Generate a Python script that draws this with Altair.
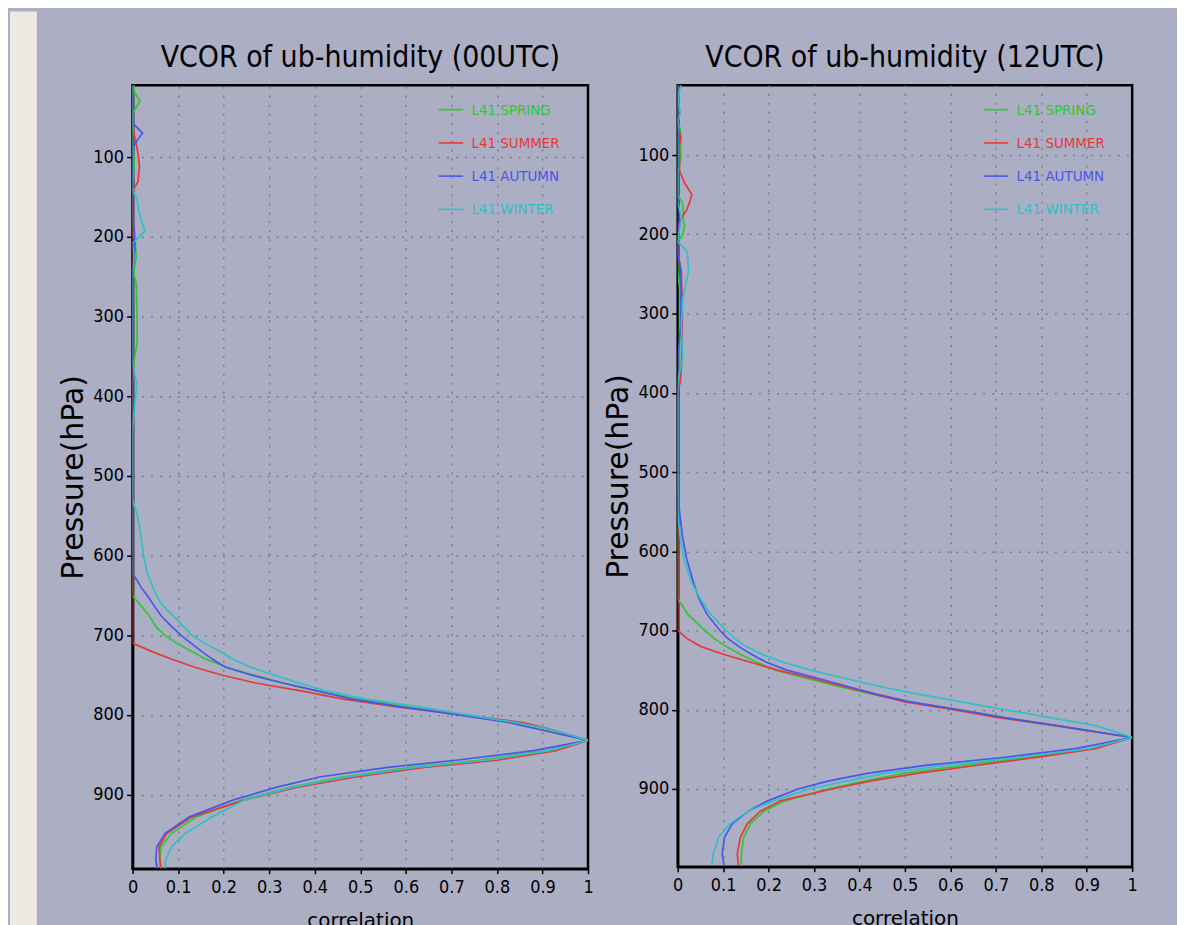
import altair as alt
import pandas as pd

SEASONS = ["L41 SPRING", "L41 SUMMER", "L41 AUTUMN", "L41 WINTER"]
COLORS = ["#30c830", "#e43a3a", "#4a55ee", "#2fc0c8"]
TITLES = ["VCOR of ub-humidity (00UTC)", "VCOR of ub-humidity (12UTC)"]
X_TICKS = [0, 0.1, 0.2, 0.3, 0.4, 0.5, 0.6, 0.7, 0.8, 0.9, 1]
Y_TICKS = [100, 200, 300, 400, 500, 600, 700, 800, 900]

# ---- 00UTC ----
LEV_00 = [10, 18, 30, 45, 57, 70, 79, 89, 100, 112,
          131, 142, 152, 171, 193, 208, 224, 246, 258, 300,
          332, 357, 386, 441, 500, 530, 553, 575, 600, 622,
          641, 651, 662, 676, 690, 700, 710, 720, 730, 740,
          750, 760, 770, 780, 790, 800, 810, 820, 832, 845,
          857, 866, 878, 891, 907, 928, 949, 966, 982, 993]
SPRING_00 = [0.003, 0.004, 0.016, 0, 0, 0, 0, 0, 0.003, 0.003,
             0, 0, 0, 0, 0, 0.006, 0.008, 0.002, 0.008, 0.01,
             0.01, 0.003, 0, 0, 0, 0, 0, 0, 0, 0,
             0, 0, 0.017, 0.037, 0.052, 0.07, 0.097, 0.128, 0.16, 0.205,
             0.265, 0.33, 0.405, 0.49, 0.60, 0.725, 0.83, 0.91, 1.0, 0.91,
             0.76, 0.61, 0.46, 0.345, 0.24, 0.14, 0.085, 0.062, 0.06, 0.063]
SUMMER_00 = [0, 0, 0, 0, 0, 0.003, 0.006, 0.01, 0.013, 0.015,
             0.012, 0, 0, 0, 0, 0, 0, 0, 0, 0,
             0, 0, 0, 0, 0, 0, 0, 0, 0, 0,
             0, 0, 0, 0, 0, 0, 0, 0.04, 0.085, 0.135,
             0.195, 0.27, 0.37, 0.46, 0.58, 0.73, 0.86, 0.93, 1.0, 0.93,
             0.80, 0.64, 0.49, 0.36, 0.245, 0.13, 0.075, 0.058, 0.06, 0.062]
AUTUMN_00 = [0, 0, 0, 0, 0, 0.022, 0.01, 0, 0, 0,
             0, 0, 0, 0, 0.004, 0.005, 0.004, 0, 0, 0,
             0, 0, 0, 0, 0, 0, 0, 0, 0, 0,
             0.02, 0.033, 0.046, 0.063, 0.087, 0.106, 0.128, 0.151, 0.175, 0.203,
             0.26, 0.33, 0.405, 0.48, 0.59, 0.715, 0.83, 0.905, 1.0, 0.88,
             0.71, 0.56, 0.41, 0.315, 0.22, 0.125, 0.071, 0.053, 0.051, 0.054]
WINTER_00 = [0, 0, 0, 0, 0, 0, 0, 0, 0, 0,
             0, 0, 0.009, 0.015, 0.027, 0, 0.003, 0, 0, 0,
             0, 0, 0.009, 0, 0, 0, 0.012, 0.018, 0.024, 0.032,
             0.046, 0.053, 0.065, 0.09, 0.113, 0.13, 0.158, 0.19, 0.22, 0.258,
             0.31, 0.365, 0.425, 0.51, 0.63, 0.735, 0.845, 0.93, 1.0, 0.915,
             0.775, 0.62, 0.47, 0.35, 0.245, 0.175, 0.115, 0.085, 0.073, 0.07]

# ---- 12UTC ----
LEV_12 = [8, 20, 35, 47, 58, 66, 78, 91, 100, 112,
          120, 135, 150, 160, 169, 180, 190, 202, 209, 222,
          247, 268, 281, 314, 356, 386, 398, 460, 520, 550,
          580, 610, 640, 660, 680, 700, 710, 720, 730, 740,
          750, 760, 770, 780, 790, 800, 810, 820, 835, 849,
          860, 870, 880, 890, 900, 915, 928, 944, 961, 982,
          997]
SPRING_12 = [0, 0, 0, 0, 0, 0.005, 0.007, 0.006, 0.007, 0.005,
             0, 0, 0, 0.01, 0.012, 0.012, 0.015, 0.01, 0, 0,
             0, 0.004, 0.004, 0.004, 0.004, 0.003, 0, 0, 0, 0,
             0, 0, 0, 0, 0.023, 0.06, 0.08, 0.106, 0.138, 0.174,
             0.215, 0.28, 0.35, 0.425, 0.511, 0.62, 0.72, 0.835, 1.0, 0.91,
             0.77, 0.63, 0.50, 0.41, 0.33, 0.235, 0.19, 0.16, 0.145, 0.14,
             0.14]
SUMMER_12 = [0, 0, 0, 0, 0, 0.002, 0.007, 0.003, 0.004, 0.004,
             0.004, 0.015, 0.031, 0.026, 0.02, 0.008, 0, 0, 0, 0,
             0.008, 0.009, 0.01, 0.01, 0.009, 0.006, 0, 0, 0, 0,
             0, 0, 0, 0, 0, 0, 0.02, 0.05, 0.1, 0.16,
             0.22, 0.292, 0.36, 0.43, 0.5, 0.606, 0.705, 0.83, 1.0, 0.92,
             0.79, 0.66, 0.53, 0.423, 0.34, 0.226, 0.182, 0.153, 0.138, 0.131,
             0.134]
AUTUMN_12 = [0, 0, 0, 0, 0, 0, 0, 0, 0, 0,
             0, 0, 0, 0, 0, 0, 0, 0, 0, 0,
             0.007, 0.007, 0.007, 0.007, 0, 0, 0, 0, 0, 0.004,
             0.01, 0.02, 0.035, 0.047, 0.065, 0.093, 0.11, 0.134, 0.162, 0.195,
             0.24, 0.306, 0.37, 0.435, 0.511, 0.62, 0.72, 0.835, 1.0, 0.875,
             0.72, 0.55, 0.42, 0.33, 0.265, 0.198, 0.155, 0.12, 0.103, 0.098,
             0.102]
WINTER_12 = [0.009, 0.003, 0.002, 0.006, 0, 0, 0, 0, 0, 0,
             0, 0, 0, 0, 0.004, 0.009, 0.005, 0.002, 0, 0.021,
             0.024, 0.016, 0.011, 0.008, 0.011, 0, 0, 0, 0, 0,
             0.005, 0.014, 0.031, 0.05, 0.073, 0.107, 0.125, 0.15, 0.185, 0.232,
             0.292, 0.365, 0.44, 0.525, 0.625, 0.72, 0.82, 0.92, 1.0, 0.905,
             0.75, 0.59, 0.46, 0.37, 0.29, 0.21, 0.155, 0.115, 0.09, 0.078,
             0.075]

NARROW = "Liberation Sans Narrow, Arial Narrow, DejaVu Sans Condensed, sans-serif"
WIDE = "DejaVu Sans, Verdana, sans-serif"
BG = "#acaec4"
STRIP = "#efe9e3"
GRID = "#7c7d8c"

label_expr = " : ".join(
    f"datum.value == '{s}' ? '{c}'" for s, c in zip(SEASONS, COLORS)
) + " : 'black'"


def make_panel(lev, series, title, ydom, w, h, top, left_pad):
    rows = []
    for name, vals in zip(SEASONS, series):
        for p, c in zip(lev, vals):
            rows.append({"season": name, "p": p, "c": c})
    df = pd.DataFrame(rows)

    xaxis = alt.Axis(
        values=X_TICKS,
        labelExpr="datum.value == 0 ? '0' : datum.value == 1 ? '1' : format(datum.value, '.1f')",
        title="correlation", titleFont=WIDE, titleFontSize=20, titleFontWeight="normal",
        titleColor="black", titleX=w / 2, titleY=58, titleAlign="center",
        titleBaseline="alphabetic",
        labelFont=NARROW, labelFontSize=18, labelColor="black", labelPadding=5,
        labelFlush=False, labelOverlap=False,
        tickSize=5, tickColor="black", tickWidth=1.5,
        domainColor="black", domainWidth=2.5,
        grid=True,
        gridColor={"condition": {"test": "datum.value == 0 || datum.value == 1",
                                 "value": "transparent"}, "value": GRID},
        gridDash=[2, 7], gridWidth=1.5,
    )
    yaxis = alt.Axis(
        values=Y_TICKS,
        title="Pressure(hPa)", titleFont=WIDE, titleFontSize=30, titleFontWeight="normal",
        titleColor="black", titleAngle=-90, titleX=-50, titleY=h / 2,
        titleAlign="center", titleBaseline="alphabetic",
        labelFont=NARROW, labelFontSize=18, labelColor="black", labelPadding=3,
        tickSize=6, tickColor="black", tickWidth=1.5,
        domainColor="black", domainWidth=2.5,
        grid=True, gridColor=GRID, gridDash=[2, 7], gridWidth=1.5,
    )
    legend = alt.Legend(
        orient="none", legendX=306, legendY=11, title=None,
        symbolType="stroke", symbolSize=600, symbolStrokeWidth=1.6,
        labelFont=NARROW, labelFontSize=15, labelColor=alt.ExprRef(label_expr),
        labelOffset=7, rowPadding=11.3, padding=0,
    )

    lines = alt.Chart(df).mark_line(strokeWidth=1.7, clip=True).encode(
        x=alt.X("c:Q", scale=alt.Scale(domain=[0, 1], nice=False, zero=False), axis=xaxis),
        y=alt.Y("p:Q", scale=alt.Scale(domain=ydom, reverse=True, nice=False, zero=False),
                axis=yaxis),
        color=alt.Color("season:N", scale=alt.Scale(domain=SEASONS, range=COLORS),
                        legend=legend),
        order=alt.Order("p:Q"),
    )

    if left_pad:
        # light page strip at the far left of the picture
        strip = alt.Chart(pd.DataFrame({"k": [0]})).mark_rect(color=STRIP).encode(
            x=alt.value(-123), x2=alt.value(-96),
            y=alt.value(8 - top), y2=alt.value(925 - top),
        )
    else:
        # transparent filler so the background reaches the right side of the page
        strip = alt.Chart(pd.DataFrame({"k": [0]})).mark_rect(color=BG, opacity=0).encode(
            x=alt.value(0), x2=alt.value(1176 - 677),
            y=alt.value(8 - top), y2=alt.value(925 - top),
        )

    ttl = alt.Chart(pd.DataFrame({"t": [title]})).mark_text(
        font=NARROW, fontSize=30, baseline="alphabetic", align="center", color="black"
    ).encode(text="t:N", x=alt.value(w / 2), y=alt.value(-18))

    return alt.layer(strip, lines, ttl).properties(width=w, height=h)


p1 = make_panel(LEV_00, [SPRING_00, SUMMER_00, AUTUMN_00, WINTER_00], TITLES[0],
                [10, 993], 457, 786, 82, True)
p2 = make_panel(LEV_12, [SPRING_12, SUMMER_12, AUTUMN_12, WINTER_12], TITLES[1],
                [12, 998], 456, 784, 82, False)

chart = alt.hconcat(p1, p2, spacing=7).resolve_scale(
    color="independent"
).resolve_legend(color="independent").configure(
    background=BG, padding=0
).configure_view(stroke="black", strokeWidth=2.5)

chart.save("out.html", embed_options={"renderer": "svg", "actions": False})
